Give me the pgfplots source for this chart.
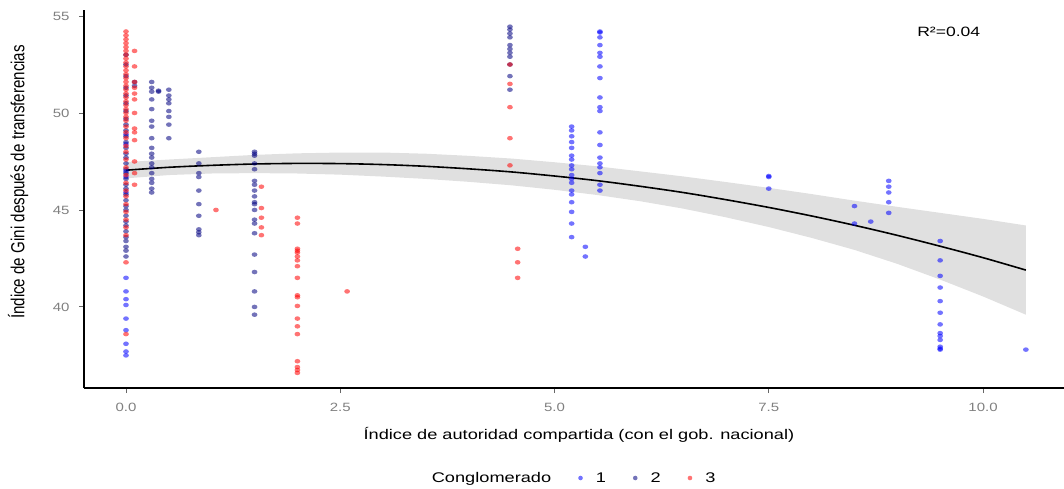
\documentclass[border=0pt]{standalone}
\usepackage{fontspec}
\setmainfont{Liberation Sans}
\usepackage{graphicx}
\usepackage{pgfplots}
\pgfplotsset{compat=1.18}
\definecolor{cA}{RGB}{0,0,255}
\definecolor{cB}{RGB}{0,0,128}
\definecolor{cC}{RGB}{255,0,0}
\newcommand{\hs}[1]{\scalebox{1.25}[1]{#1}}
\begin{document}
\begin{tikzpicture}
\useasboundingbox (-84pt,-100pt) rectangle (980pt,388pt);
\begin{axis}[
  scale only axis, width=980pt, height=378pt,
  xmin=-0.49, xmax=10.945, ymin=35.82, ymax=55.31,
  axis x line*=bottom, axis y line*=left,
  axis line style={-, black, line width=1.3pt},
  xtick={0,2.5,5,7.5,10}, xticklabels={\hs{0.0},\hs{2.5},\hs{5.0},\hs{7.5},\hs{10.0}},
  ytick={40,45,50,55}, yticklabels={\hs{40},\hs{45},\hs{50},\hs{55}},
  minor tick num=0,
  tick align=outside, major tick length=5pt,
  tick style={black!60, line width=0.9pt},
  ticklabel style={font=\fontsize{12}{14}\selectfont, text=black!50},
  xticklabel style={yshift=-7pt},
  yticklabel style={xshift=-6pt},
  xlabel={\scalebox{1.3}[1]{Índice de autoridad compartida (con el gob. nacional)}},
  ylabel={\scalebox{1.08}[1.35]{Índice de Gini después de transferencias}},
  xlabel style={font=\fontsize{14}{16}\selectfont, at={(axis description cs:0.505,0)}, yshift=-47pt, anchor=center},
  ylabel style={font=\fontsize{14}{16}\selectfont, at={(axis description cs:-0.0673,0.545)}, anchor=center},
  legend style={draw=none, fill=none, at={(axis description cs:0.494,0)}, yshift=-90pt, anchor=center,
    font=\fontsize{14}{16}\selectfont, legend columns=-1,
    /tikz/every odd column/.append style={column sep=11pt},
    /tikz/every even column/.append style={column sep=25pt}},
  clip=false,
]
% cluster 1 (blue)
\addplot[only marks, color=cA, mark=*, mark size=2.3pt, mark options={fill=cA, fill opacity=0.55, draw opacity=0, xscale=1.25}, forget plot] coordinates {
(0,48.9)(0,48.4)(0,47.0)(0,46.7)(0,45.9)(0,41.5)(0,40.8)(0,40.4)(0,40.1)(0,39.4)(0,38.8)(0,38.1)(0,37.7)(0,37.5)
(5.2,49.3)(5.2,49.1)(5.2,48.8)(5.2,48.5)(5.2,48.2)(5.2,47.8)(5.2,47.6)(5.2,47.3)(5.2,47.1)(5.2,46.8)(5.2,46.6)(5.2,46.4)(5.2,46.0)(5.2,45.8)(5.2,45.4)(5.2,44.9)(5.2,44.3)(5.2,43.6)
(5.36,43.1)(5.36,42.6)
(5.53,54.2)(5.53,54.15)(5.53,53.9)(5.53,53.5)(5.53,53.1)(5.53,52.9)(5.53,52.4)(5.53,51.8)(5.53,50.8)(5.53,50.3)(5.53,50.1)(5.53,49.0)(5.53,48.35)(5.53,47.7)(5.53,47.4)(5.53,47.2)(5.53,46.9)(5.53,46.3)(5.53,46.0)
(7.5,46.7)(7.5,46.75)(7.5,46.1)
(8.5,45.2)(8.5,44.3)(8.69,44.4)
(8.9,46.5)(8.9,46.2)(8.9,45.9)(8.9,45.4)(8.9,44.85)
(9.5,43.4)(9.5,42.4)(9.5,41.6)(9.5,41.0)(9.5,40.3)(9.5,39.7)(9.5,39.1)(9.5,38.65)(9.5,38.5)(9.5,38.3)(9.5,37.95)(9.5,37.85)(9.5,37.8)
(10.5,37.8)
};
% cluster 2 (navy)
\addplot[only marks, color=cB, mark=*, mark size=2.3pt, mark options={fill=cB, fill opacity=0.55, draw opacity=0, xscale=1.25}, forget plot] coordinates {
(0,53.0)(0,52.5)(0,51.9)(0,51.3)(0,50.9)(0,50.5)(0,50.1)(0,49.7)(0,49.4)(0,49.1)(0,48.8)(0,48.5)(0,48.2)(0,47.9)(0,47.7)(0,47.4)(0,47.1)(0,46.9)(0,46.6)(0,46.3)(0,46.1)(0,45.8)(0,45.5)(0,45.2)(0,45.0)(0,44.7)(0,44.4)(0,44.2)(0,43.9)(0,43.6)(0,43.4)(0,43.1)(0,42.9)(0,42.6)
(0.1,51.4)(0.1,51.6)
(0.3,51.6)(0.3,51.3)(0.3,51.1)(0.3,50.7)(0.3,50.2)(0.3,49.6)(0.3,49.3)(0.3,48.7)(0.3,48.2)(0.3,47.9)(0.3,47.7)(0.3,47.4)(0.3,47.2)(0.3,46.9)(0.3,46.6)(0.3,46.4)(0.3,46.1)(0.3,45.9)
(0.38,51.15)(0.38,51.1)
(0.5,51.2)(0.5,50.9)(0.5,50.7)(0.5,50.5)(0.5,50.1)(0.5,49.8)(0.5,49.4)(0.5,48.7)
(0.85,48.0)(0.85,47.4)(0.85,46.9)(0.85,46.7)(0.85,46.0)(0.85,45.3)(0.85,44.7)(0.85,44.0)(0.85,43.85)(0.85,43.7)
(1.5,48.0)(1.5,47.9)(1.5,47.8)(1.5,47.4)(1.5,47.1)(1.5,46.5)(1.5,46.3)(1.5,46.0)(1.5,45.7)(1.5,45.4)(1.5,45.3)(1.5,45.0)(1.5,44.5)(1.5,44.3)(1.5,43.8)(1.5,42.7)(1.5,41.8)(1.5,40.8)(1.5,40.0)(1.5,39.6)
(4.48,54.45)(4.48,54.3)(4.48,54.1)(4.48,53.9)(4.48,53.5)(4.48,53.3)(4.48,53.1)(4.48,52.9)(4.48,52.5)(4.48,51.9)(4.48,51.2)
};
% cluster 3 (red)
\addplot[only marks, color=cC, mark=*, mark size=2.3pt, mark options={fill=cC, fill opacity=0.55, draw opacity=0, xscale=1.25}, forget plot] coordinates {
(0,54.2)(0,54.0)(0,53.8)(0,53.6)(0,53.4)(0,53.2)(0,53.0)(0,52.8)(0,52.6)(0,52.4)(0,52.2)(0,52.0)(0,51.8)(0,51.6)(0,51.4)(0,51.2)(0,51.0)(0,50.8)(0,50.6)(0,50.4)(0,50.2)(0,50.0)(0,49.8)(0,49.6)(0,49.3)(0,49.0)(0,48.7)(0,48.3)(0,48.0)(0,47.6)(0,47.2)(0,46.8)(0,46.4)(0,46.0)(0,45.7)(0,45.3)(0,44.9)(0,44.5)(0,44.1)(0,43.7)(0,42.3)(0,38.6)
(0.1,53.2)(0.1,52.4)(0.1,51.6)(0.1,51.3)(0.1,51.0)(0.1,50.7)(0.1,50.0)(0.1,49.2)(0.1,49.0)(0.1,48.6)(0.1,47.5)(0.1,46.9)(0.1,46.3)
(1.05,45.0)
(1.58,46.2)(1.58,45.1)(1.58,44.6)(1.58,44.1)(1.58,43.7)
(2.0,44.6)(2.0,44.3)(2.0,43.0)(2.0,42.9)(2.0,42.8)(2.0,42.6)(2.0,42.4)(2.0,42.1)(2.0,41.5)(2.0,40.6)(2.0,40.5)(2.0,40.05)(2.0,39.4)(2.0,39.0)(2.0,38.6)(2.0,37.2)(2.0,36.9)(2.0,36.75)(2.0,36.6)
(2.58,40.8)
(4.48,52.5)(4.48,51.5)(4.48,50.3)(4.48,48.7)(4.48,47.3)
(4.57,43.0)(4.57,42.3)(4.57,41.5)
};
% confidence band
\addplot[fill=gray!60, fill opacity=0.4, draw=none, forget plot] coordinates {
(0,47.47)(0.5,47.60)(1,47.72)(1.5,47.84)(2,47.92)(2.5,47.96)(3,47.96)(3.5,47.90)(4,47.79)(4.5,47.65)(5,47.46)(5.5,47.25)(6,46.99)(6.5,46.73)(7,46.44)(7.5,46.14)(8,45.82)(8.5,45.48)(9,45.16)(9.5,44.85)(10,44.54)(10.5,44.20)
(10.5,39.60)(10,40.54)(9.5,41.41)(9,42.22)(8.5,42.94)(8,43.56)(7.5,44.12)(7,44.62)(6.5,45.07)(6,45.45)(5.5,45.77)(5,46.04)(4.5,46.27)(4,46.45)(3.5,46.60)(3,46.72)(2.5,46.82)(2,46.88)(1.5,46.90)(1,46.88)(0.5,46.80)(0,46.63)
} -- cycle;
% fitted curve
\addplot[black, line width=1.6pt, smooth, forget plot] coordinates {
(0,47.05)(0.5,47.20)(1,47.30)(1.5,47.37)(2,47.40)(2.5,47.39)(3,47.34)(3.5,47.25)(4,47.12)(4.5,46.96)(5,46.75)(5.5,46.51)(6,46.22)(6.5,45.90)(7,45.53)(7.5,45.13)(8,44.69)(8.5,44.21)(9,43.69)(9.5,43.13)(10,42.54)(10.5,41.90)
};
\addlegendimage{empty legend}\addlegendentry{\scalebox{1.3}[1]{Conglomerado}}
\addlegendimage{only marks, color=cA, mark=*, mark size=2.3pt, mark options={fill=cA, fill opacity=0.55, draw opacity=0}}\addlegendentry{\scalebox{1.3}[1]{1}}
\addlegendimage{only marks, color=cB, mark=*, mark size=2.3pt, mark options={fill=cB, fill opacity=0.55, draw opacity=0}}\addlegendentry{\scalebox{1.3}[1]{2}}
\addlegendimage{only marks, color=cC, mark=*, mark size=2.3pt, mark options={fill=cC, fill opacity=0.55, draw opacity=0}}\addlegendentry{\scalebox{1.3}[1]{3}}
\node[font=\fontsize{13.5}{15}\selectfont, anchor=center] at (axis cs:9.6,54.2) {\scalebox{1.3}[1]{R²=0.04}};
\end{axis}
\end{tikzpicture}
\end{document}
